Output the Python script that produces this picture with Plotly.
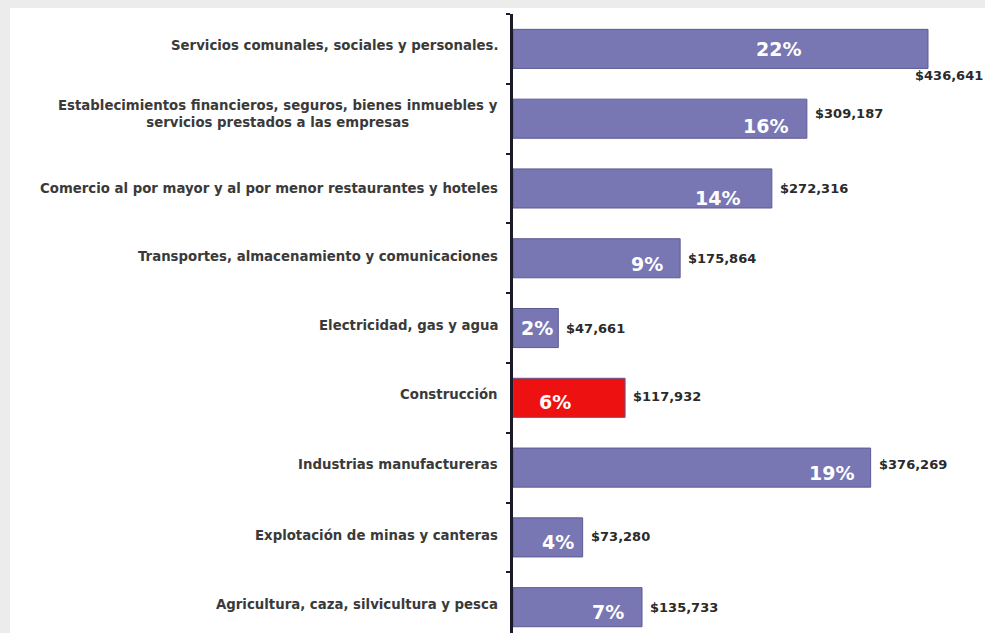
import plotly.graph_objects as go

# Producto por sector de actividad económica (miles de pesos)
sectores = [
    "Servicios comunales, sociales y personales.",
    "Establecimientos financieros, seguros, bienes inmuebles y<br>servicios prestados a las empresas",
    "Comercio al por mayor y al por menor restaurantes y hoteles",
    "Transportes, almacenamiento y comunicaciones",
    "Electricidad, gas y agua",
    "Construcción",
    "Industrias manufactureras",
    "Explotación de minas y canteras",
    "Agricultura, caza, silvicultura y pesca",
]
valores = [436641, 309187, 272316, 175864, 47661, 117932, 376269, 73280, 135733]
destacado = "Construcción"

total = sum(valores)
porcentajes = [f"{round(100 * v / total)}%" for v in valores]
etiquetas_valor = [f"${v:,}" for v in valores]

# placement of the in-bar percentage labels (fraction of bar length, pixel shift)
pct_frac = [0.64, 0.86, 0.79, 0.80, 0.53, 0.375, 0.89, 0.64, 0.74]
pct_dy = [0, -7, -10, -6, 0, -4, -5, -5, -5]
# placement of the value labels next to each bar
val_dx = [-15, 6, 6, 6, 6, 6, 6, 6, 6]
val_dy = [-27, 5, 0, 0, 0, 1, 3, 1, 0]
# vertical nudge of the category labels
cat_dy = [3, 5, 0, 2, 3, 3, 3, 2, 3]

COLOR_BAR = "#7876b3"
COLOR_EDGE = "#5d5b93"
COLOR_RED = "#ee1111"
COLOR_AXIS = "#1b1a2a"

colores = [COLOR_RED if s == destacado else COLOR_BAR for s in sectores]

fig = go.Figure(
    go.Bar(
        y=sectores,
        x=valores,
        orientation="h",
        width=0.56,
        marker=dict(color=colores, line=dict(color=COLOR_EDGE, width=1)),
        hoverinfo="skip",
    )
)

annotations = []
for i, s in enumerate(sectores):
    # category label, right aligned against the axis
    annotations.append(dict(
        xref="paper", yref="y", x=0, y=s, xanchor="right", yanchor="middle",
        xshift=-13, yshift=cat_dy[i], align="center", showarrow=False,
        text=s,
        font=dict(family="DejaVu Sans", size=13.3, color="#3a3a3a", weight="bold"),
    ))
    # percentage inside the bar
    annotations.append(dict(
        xref="x", yref="y", x=valores[i] * pct_frac[i], y=s,
        xanchor="center", yanchor="middle", yshift=pct_dy[i], showarrow=False,
        text=porcentajes[i],
        font=dict(family="DejaVu Sans", size=19, color="white", weight="bold"),
    ))
    # value label at the end of the bar
    annotations.append(dict(
        xref="x", yref="y", x=valores[i], y=s,
        xanchor="left", yanchor="middle", xshift=val_dx[i], yshift=val_dy[i],
        showarrow=False, text=etiquetas_valor[i],
        font=dict(family="DejaVu Sans", size=13, color="#2a2a2a", weight="bold"),
    ))

fig.update_layout(
    width=985,
    height=633,
    margin=dict(l=513, r=0, t=14, b=0),
    paper_bgcolor="#ececec",
    plot_bgcolor="white",
    showlegend=False,
    annotations=annotations,
    shapes=[dict(
        type="rect", xref="paper", yref="paper",
        x0=-503 / 472, x1=1.0, y0=-0.01, y1=1 + 6 / 619,
        fillcolor="white", line=dict(width=0), layer="below",
    )],
    xaxis=dict(
        range=[0, 496600], showgrid=False, zeroline=False,
        showticklabels=False, showline=False, fixedrange=True,
    ),
    yaxis=dict(
        type="category", categoryorder="array", categoryarray=sectores,
        range=[8.37, -0.5], showgrid=False, zeroline=False,
        showticklabels=False, showline=True, linecolor=COLOR_AXIS, linewidth=3,
        ticks="outside", tickson="boundaries", ticklen=4, tickwidth=2,
        tickcolor=COLOR_AXIS, fixedrange=True,
    ),
)

fig.write_html("out.html")
